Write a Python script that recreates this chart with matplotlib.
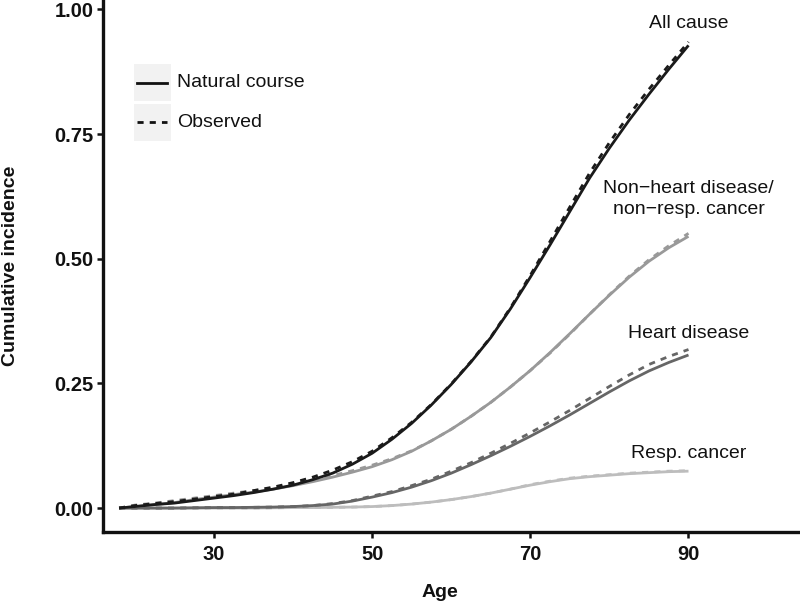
import matplotlib
matplotlib.use("Agg")
import matplotlib.pyplot as plt
from matplotlib.patches import Rectangle
from matplotlib.lines import Line2D

plt.rcParams['font.family'] = ['Liberation Sans', 'DejaVu Sans']

ages = [18, 20, 22.5, 25, 27.5, 30, 32.5, 35, 37.5, 40, 42.5, 45, 47.5, 50, 52.5,
        55, 57.5, 60, 62.5, 65, 67.5, 70, 72.5, 75, 77.5, 80, 82.5, 85, 87.5, 90]

all_nat = [0, 0.003, 0.007, 0.010, 0.015, 0.020, 0.025, 0.031, 0.038, 0.046, 0.057, 0.070,
           0.088, 0.110, 0.138, 0.170, 0.207, 0.248, 0.293, 0.342, 0.400, 0.463, 0.528, 0.595,
           0.662, 0.722, 0.778, 0.830, 0.880, 0.928]
all_obs = [0, 0.005, 0.009, 0.013, 0.018, 0.023, 0.028, 0.035, 0.042, 0.051, 0.062, 0.076,
           0.093, 0.114, 0.141, 0.172, 0.208, 0.249, 0.294, 0.343, 0.402, 0.467, 0.535, 0.604,
           0.672, 0.733, 0.789, 0.840, 0.888, 0.935]

nonheart_nat = [0, 0.003, 0.007, 0.011, 0.017, 0.022, 0.027, 0.032, 0.038, 0.045, 0.053,
                0.062, 0.072, 0.083, 0.097, 0.114, 0.135, 0.158, 0.184, 0.212, 0.243, 0.276,
                0.312, 0.350, 0.389, 0.427, 0.463, 0.495, 0.522, 0.545]
nonheart_obs = [0, 0.006, 0.010, 0.015, 0.020, 0.025, 0.030, 0.035, 0.041, 0.048, 0.056,
                0.065, 0.075, 0.086, 0.099, 0.115, 0.135, 0.158, 0.184, 0.212, 0.243, 0.276,
                0.311, 0.349, 0.389, 0.428, 0.465, 0.498, 0.526, 0.551]

heart_nat = [0, 0, 0, 0, 0.0005, 0.001, 0.001, 0.0015, 0.002, 0.003, 0.005, 0.008, 0.014,
             0.022, 0.031, 0.042, 0.055, 0.07, 0.087, 0.105, 0.124, 0.144, 0.165, 0.187,
             0.21, 0.233, 0.255, 0.275, 0.292, 0.307]
heart_obs = [0, 0, 0, 0, 0.0005, 0.001, 0.001, 0.0015, 0.002, 0.003, 0.005, 0.009, 0.015,
             0.024, 0.033, 0.045, 0.058, 0.074, 0.091, 0.110, 0.130, 0.151, 0.173, 0.196,
             0.220, 0.244, 0.267, 0.288, 0.304, 0.318]

resp_nat = [0, 0, 0, 0, 0, 0, 0, 0, 0.0005, 0.001, 0.001, 0.0015, 0.002, 0.003, 0.005,
            0.008, 0.012, 0.017, 0.023, 0.03, 0.038, 0.046, 0.053, 0.059, 0.063, 0.066,
            0.069, 0.071, 0.073, 0.074]
resp_obs = [0, 0, 0, 0, 0, 0, 0, 0, 0.0005, 0.001, 0.001, 0.0015, 0.002, 0.003, 0.005,
            0.008, 0.012, 0.017, 0.023, 0.03, 0.038, 0.047, 0.054, 0.06, 0.064, 0.067,
            0.07, 0.072, 0.074, 0.075]

series = [
    ("Resp. cancer", resp_nat, resp_obs, "#bdbdbd"),
    ("Heart disease", heart_nat, heart_obs, "#666666"),
    ("Non\u2212heart disease/\nnon\u2212resp. cancer", nonheart_nat, nonheart_obs, "#999999"),
    ("All cause", all_nat, all_obs, "#1a1a1a"),
]
label_y = [0.11, 0.351, 0.62, 0.971]

x_ticks = [30, 50, 70, 90]
y_ticks = [0.00, 0.25, 0.50, 0.75, 1.00]
y_ticklabels = ["0.00", "0.25", "0.50", "0.75", "1.00"]

W, H = 800, 602
fig = plt.figure(figsize=(W / 100, H / 100), dpi=100)
ax = fig.add_axes([103.3 / W, 1 - 532 / H, 1 - 103.3 / W, 532 / H])

LW = 2.0
for (name, nat, obs, col), ly in zip(series, label_y):
    ax.plot(ages, obs, color=col, lw=LW, linestyle=(0, (2.2, 2.2)), solid_capstyle='butt')
    ax.plot(ages, nat, color=col, lw=LW, solid_capstyle='butt')
    ax.text(90, ly, name, ha='center', va='center', fontsize=14, color='#111111',
            linespacing=1.25)

ax.set_xlim(16.0, 104.1)
ax.set_ylim(-0.048, 1.019)
ax.set_xticks(x_ticks)
ax.set_xticklabels([str(v) for v in x_ticks])
ax.set_yticks(y_ticks)
ax.set_yticklabels(y_ticklabels)
for s in ['top', 'right']:
    ax.spines[s].set_visible(False)
for s in ['left', 'bottom']:
    ax.spines[s].set_linewidth(2.4)
    ax.spines[s].set_color('#111111')
ax.tick_params(axis='both', direction='out', length=4, width=1.8, color='#111111',
               labelsize=14.5, labelcolor='#111111')
ax.tick_params(axis='y', pad=3)
ax.tick_params(axis='x', pad=5)
for lab in ax.get_xticklabels() + ax.get_yticklabels():
    lab.set_fontweight('bold')

fig.text(11 / W, 1 - 266 / H, "Cumulative incidence", rotation=90, ha='center',
         va='center', fontsize=14, fontweight='bold', color='#111111')
fig.text(440 / W, 1 - 597 / H, "Age", ha='center', va='baseline', fontsize=14,
         fontweight='bold', color='#111111')

# legend (ggplot-style keys)
legend_items = [("Natural course", '-'), ("Observed", (0, (2.2, 2.2)))]
key_tops = [64, 103.5]
for (txt, ls), top in zip(legend_items, key_tops):
    fig.patches.append(Rectangle((134 / W, 1 - (top + 37) / H), 36.5 / W, 37 / H,
                                 transform=fig.transFigure, facecolor='#f2f2f2',
                                 edgecolor='none'))
    yc = 1 - (top + 18.7) / H
    fig.lines.append(Line2D([137 / W, 167 / W], [yc, yc], transform=fig.transFigure,
                            color='#111111', lw=LW, linestyle=ls))
    fig.text(177 / W, yc, txt, ha='left', va='center', fontsize=14, color='#111111')

fig.savefig("out.png", dpi=100)
